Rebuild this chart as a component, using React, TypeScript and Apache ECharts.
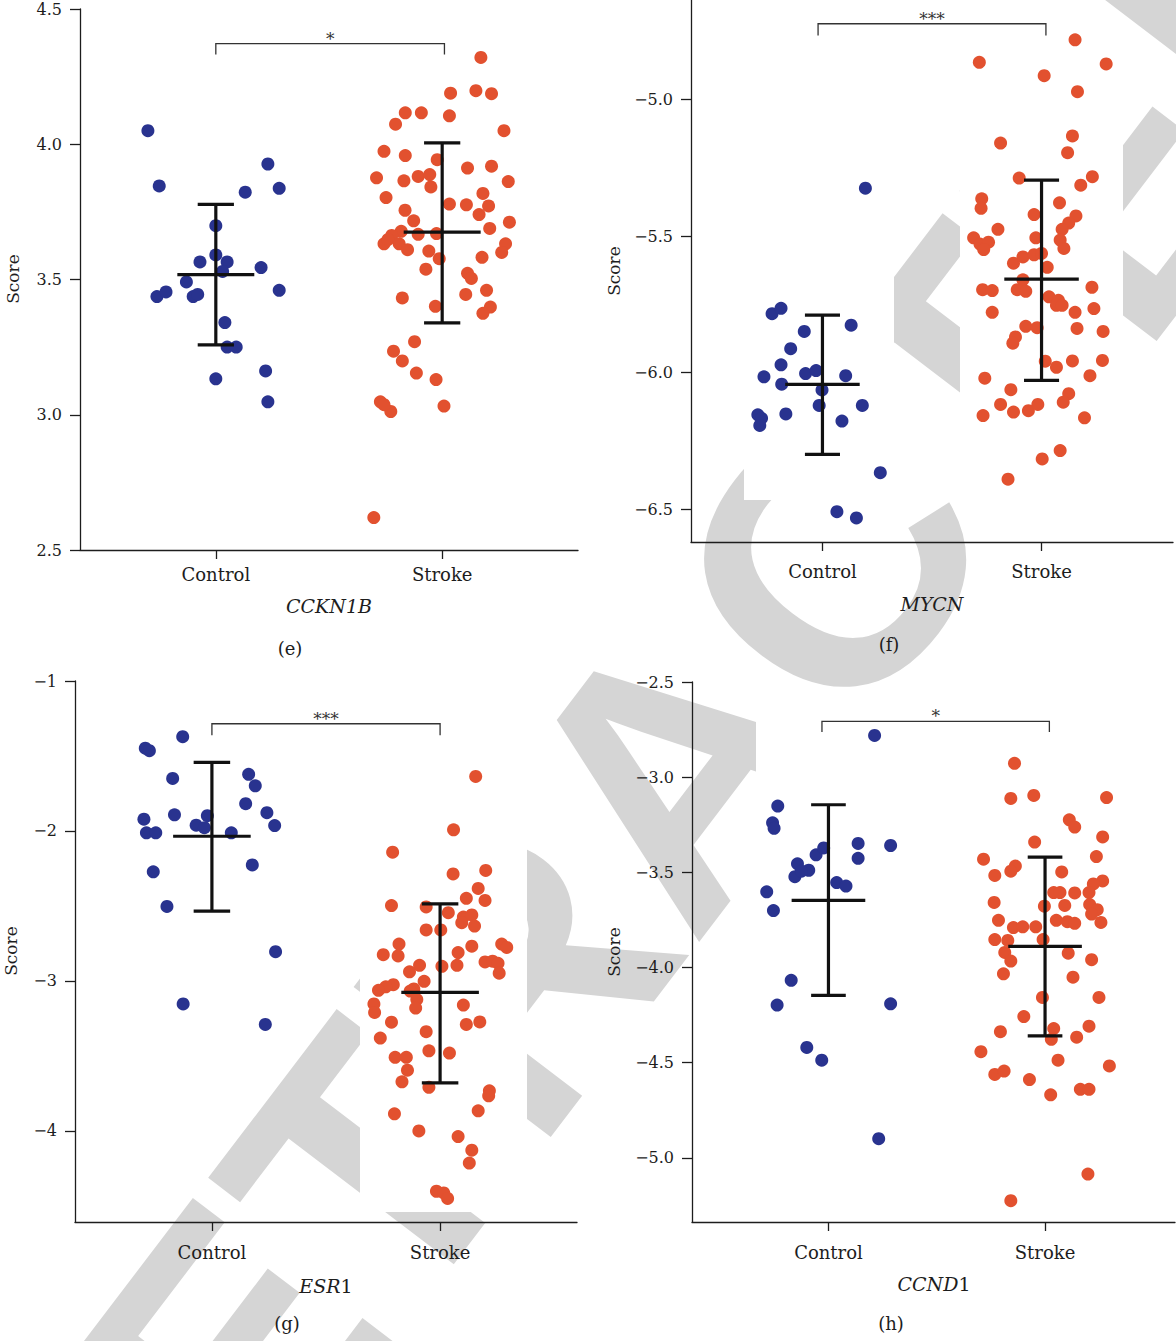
import React, { useEffect, useRef } from 'react';
import * as echarts from 'echarts';

// ---------- data ----------
const groups = ['Control', 'Stroke'];

// [jittered x (0 = Control, 1 = Stroke), score]
const eControl = [
  [-0.30, 4.05], [-0.25, 3.846], [0.13, 3.823], [0.23, 3.927], [0.28, 3.837], [0.0, 3.699],
  [-0.07, 3.565], [0.0, 3.591], [0.05, 3.565], [0.03, 3.53], [0.20, 3.544], [-0.26, 3.437],
  [-0.22, 3.454], [-0.13, 3.491], [-0.10, 3.437], [-0.08, 3.445], [0.28, 3.46], [0.04, 3.341],
  [0.05, 3.25], [0.09, 3.25], [0.0, 3.133], [0.22, 3.162], [0.23, 3.048]
];
const eStroke = [
  [1.171, 4.321], [1.037, 4.189], [1.149, 4.198], [1.218, 4.187], [0.837, 4.116], [0.908, 4.116],
  [1.032, 4.105], [0.794, 4.074], [1.273, 4.05], [0.743, 3.974], [0.837, 3.958], [0.978, 3.943],
  [1.112, 3.912], [1.218, 3.919], [0.71, 3.876], [0.831, 3.865], [0.894, 3.881], [0.945, 3.888],
  [0.95, 3.842], [1.292, 3.862], [0.752, 3.803], [1.032, 3.779], [1.107, 3.776], [1.18, 3.818],
  [1.205, 3.772], [0.836, 3.756], [0.874, 3.717], [1.163, 3.74], [1.297, 3.712], [1.21, 3.689],
  [0.819, 3.678], [0.777, 3.663], [0.743, 3.632], [0.76, 3.647], [0.81, 3.632], [0.847, 3.61],
  [0.894, 3.667], [0.975, 3.67], [0.941, 3.605], [0.987, 3.577], [0.928, 3.538], [1.28, 3.632],
  [1.263, 3.6], [1.176, 3.582], [1.112, 3.523], [1.129, 3.504], [1.104, 3.445], [1.196, 3.46],
  [1.213, 3.398], [1.18, 3.375], [0.824, 3.432], [0.97, 3.401], [0.878, 3.27], [0.785, 3.235],
  [0.824, 3.199], [0.886, 3.154], [0.973, 3.13], [0.727, 3.048], [0.773, 3.012], [1.008, 3.032],
  [0.698, 2.62], [0.743, 3.037]
];
const fControl = [
  [0.196, -5.324], [-0.23, -5.784], [-0.189, -5.764], [-0.083, -5.849], [0.131, -5.826],
  [-0.145, -5.912], [-0.189, -5.971], [-0.267, -6.015], [-0.077, -6.003], [-0.029, -5.992],
  [0.106, -6.011], [-0.186, -6.042], [-0.002, -6.063], [-0.015, -6.12], [0.182, -6.12],
  [-0.167, -6.151], [-0.295, -6.154], [-0.278, -6.167], [-0.286, -6.193], [0.089, -6.177],
  [0.264, -6.366], [0.066, -6.509], [0.155, -6.532]
];
const fStroke = [
  [1.153, -4.781], [0.716, -4.863], [1.295, -4.869], [1.012, -4.912], [1.164, -4.971],
  [0.813, -5.159], [1.141, -5.133], [1.119, -5.194], [0.898, -5.287], [1.232, -5.282],
  [1.179, -5.313], [1.082, -5.378], [0.727, -5.363], [0.724, -5.398], [0.966, -5.421],
  [1.157, -5.426], [1.124, -5.452], [0.801, -5.475], [1.094, -5.475], [0.69, -5.506],
  [0.719, -5.529], [0.758, -5.522], [0.736, -5.549], [1.085, -5.514], [0.974, -5.506],
  [1.102, -5.545], [0.872, -5.599], [0.915, -5.576], [0.966, -5.568], [1.0, -5.563],
  [1.026, -5.614], [0.731, -5.696], [0.775, -5.699], [0.915, -5.66], [0.889, -5.696],
  [0.928, -5.702], [1.23, -5.687], [1.034, -5.722], [1.077, -5.735], [1.068, -5.753],
  [1.094, -5.753], [1.153, -5.779], [1.239, -5.765], [0.775, -5.779], [0.928, -5.83],
  [0.98, -5.835], [1.162, -5.838], [1.281, -5.849], [0.881, -5.869], [0.869, -5.892],
  [1.017, -5.958], [1.068, -5.98], [1.141, -5.957], [1.278, -5.955], [0.741, -6.02],
  [1.221, -6.011], [0.86, -6.062], [1.124, -6.077], [1.099, -6.108], [0.813, -6.116],
  [0.872, -6.144], [0.94, -6.139], [0.983, -6.116], [0.733, -6.157], [1.196, -6.165],
  [1.085, -6.285], [1.003, -6.316], [0.847, -6.39]
];
const gControl = [
  [-0.128, -1.371], [-0.292, -1.448], [-0.274, -1.465], [-0.172, -1.65], [0.161, -1.622],
  [0.19, -1.699], [0.148, -1.818], [-0.164, -1.892], [0.241, -1.878], [-0.298, -1.921],
  [-0.02, -1.898], [-0.069, -1.961], [-0.033, -1.978], [0.275, -1.964], [-0.287, -2.012],
  [-0.246, -2.012], [0.085, -2.012], [0.177, -2.226], [-0.257, -2.272], [-0.197, -2.503],
  [0.279, -2.805], [-0.126, -3.153], [0.234, -3.29]
];
const gStroke = [
  [1.156, -1.636], [1.059, -1.992], [0.792, -2.141], [1.057, -2.286], [1.2, -2.263],
  [1.167, -2.383], [0.787, -2.497], [1.115, -2.449], [1.197, -2.463], [0.939, -2.506],
  [1.036, -2.545], [1.102, -2.574], [1.139, -2.56], [1.151, -2.634], [1.095, -2.611],
  [0.939, -2.66], [1.003, -2.66], [1.139, -2.768], [0.82, -2.754], [1.27, -2.754],
  [1.292, -2.776], [0.751, -2.825], [0.816, -2.833], [1.079, -2.811], [1.074, -2.896],
  [1.008, -2.902], [0.91, -2.896], [0.866, -2.939], [1.197, -2.873], [1.23, -2.868],
  [1.254, -2.882], [1.259, -2.948], [0.795, -3.025], [0.762, -3.039], [0.73, -3.062],
  [0.93, -3.002], [0.885, -3.053], [0.869, -3.067], [0.71, -3.153], [0.713, -3.21],
  [0.898, -3.124], [0.893, -3.181], [1.102, -3.161], [0.787, -3.275], [1.115, -3.29],
  [1.174, -3.273], [0.939, -3.338], [0.738, -3.381], [0.951, -3.466], [1.041, -3.481],
  [0.803, -3.509], [0.852, -3.509], [0.857, -3.595], [0.833, -3.672], [0.951, -3.709],
  [1.216, -3.732], [1.213, -3.766], [0.8, -3.886], [1.167, -3.866], [0.907, -4.0],
  [1.079, -4.037], [1.139, -4.128], [1.128, -4.214], [0.984, -4.402], [1.016, -4.413],
  [1.033, -4.45]
];
const hControl = [
  [0.213, -2.781], [-0.234, -3.152], [-0.258, -3.24], [-0.251, -3.269], [-0.285, -3.602],
  [-0.254, -3.701], [-0.143, -3.455], [-0.091, -3.489], [-0.155, -3.523], [-0.125, -3.494],
  [-0.057, -3.408], [-0.022, -3.372], [0.137, -3.348], [0.137, -3.426], [0.287, -3.359],
  [0.038, -3.554], [0.081, -3.572], [-0.172, -4.067], [-0.237, -4.197], [0.287, -4.191],
  [-0.1, -4.42], [-0.031, -4.487], [0.232, -4.899]
];
const hStroke = [
  [0.859, -2.927], [0.842, -3.112], [0.948, -3.096], [1.284, -3.107], [0.952, -3.341],
  [1.112, -3.224], [1.137, -3.262], [1.266, -3.314], [0.716, -3.431], [1.237, -3.417],
  [0.863, -3.467], [0.768, -3.516], [0.842, -3.494], [1.077, -3.498], [1.266, -3.545],
  [1.223, -3.561], [0.765, -3.658], [0.997, -3.678], [1.04, -3.606], [1.069, -3.606],
  [1.137, -3.608], [1.203, -3.606], [1.091, -3.674], [0.785, -3.752], [0.854, -3.79],
  [0.897, -3.786], [0.957, -3.786], [1.052, -3.752], [1.103, -3.759], [1.137, -3.768],
  [1.206, -3.669], [1.241, -3.696], [1.258, -3.763], [1.215, -3.719], [0.768, -3.853],
  [0.828, -3.858], [0.991, -3.853], [0.814, -3.921], [0.842, -3.966], [0.808, -4.033],
  [1.107, -3.925], [1.215, -3.959], [1.129, -4.051], [1.249, -4.157], [0.988, -4.157],
  [0.902, -4.258], [0.794, -4.337], [1.04, -4.321], [1.029, -4.377], [1.203, -4.308],
  [1.146, -4.366], [0.704, -4.442], [0.768, -4.562], [0.811, -4.544], [0.928, -4.589],
  [1.06, -4.487], [1.026, -4.669], [1.163, -4.64], [1.203, -4.64], [1.297, -4.517],
  [1.198, -5.085], [0.842, -5.225]
];

// error bars: [x, mean, lower, upper]
const eBars = [[0, 3.518, 3.258, 3.778], [1, 3.675, 3.34, 4.005]];
const fBars = [[0, -6.043, -6.299, -5.789], [1, -5.657, -6.028, -5.295]];
const gBars = [[0, -2.035, -2.534, -1.542], [1, -3.076, -3.68, -2.486]];
const hBars = [[0, -3.647, -4.146, -3.145], [1, -3.889, -4.359, -3.42]];

// significance brackets: [x1, x2, yTop, yEnd]
const eBracket = [0, 1.01, 4.372, 4.332];
const fBracket = [-0.02, 1.02, -4.722, -4.765];
const gBracket = [0, 1.0, -1.285, -1.362];
const hBracket = [-0.03, 1.02, -2.707, -2.763];
const eSig = '*';
const fSig = '***';
const gSig = '***';
const hSig = '*';

// y-axis ticks
const eTicks = [2.5, 3.0, 3.5, 4.0, 4.5];
const fTicks = [-6.5, -6.0, -5.5, -5.0];
const gTicks = [-4, -3, -2, -1];
const hTicks = [-5.0, -4.5, -4.0, -3.5, -3.0, -2.5];

// ---------- layout / style ----------
const SERIF = '"DejaVu Serif", serif';
const BLUE = '#29338f';
const RED = '#e2512f';
const INK = '#1d1d1d';
const WATERMARK = '#d5d5d5';

const panels = [
  { grid: { left: 80, top: 9, width: 498, height: 541 }, yMin: 2.5, yMax: 4.5, ticks: eTicks, dec: 1,
    xMin: -0.6, xMax: 1.6, ctrl: eControl, stroke: eStroke, bars: eBars, bracket: eBracket, sig: eSig, catMargin: 15 },
  { grid: { left: 691, top: 0, width: 482, height: 542 }, yMin: -6.62, yMax: -4.635, ticks: fTicks, dec: 1,
    xMin: -0.6, xMax: 1.6, ctrl: fControl, stroke: fStroke, bars: fBars, bracket: fBracket, sig: fSig, catMargin: 20 },
  { grid: { left: 75, top: 681, width: 502, height: 541 }, yMin: -4.607, yMax: -1, ticks: gTicks, dec: 0,
    xMin: -0.6, xMax: 1.6, ctrl: gControl, stroke: gStroke, bars: gBars, bracket: gBracket, sig: gSig, catMargin: 21 },
  { grid: { left: 692, top: 682, width: 483, height: 540 }, yMin: -5.337, yMax: -2.5, ticks: hTicks, dec: 1,
    xMin: -0.63, xMax: 1.6, ctrl: hControl, stroke: hStroke, bars: hBars, bracket: hBracket, sig: hSig, catMargin: 21 },
];

// white backing panels behind the point clouds (the pasted plot images hide the watermark there)
const backings = [
  [134, 117, 293, 415], [360, 44, 523, 531],
  [744, 175, 894, 500], [960, 27, 1123, 515],
  [130, 723, 289, 1038], [360, 762, 527, 1212],
  [756, 722, 905, 1152], [968, 750, 1125, 1214],
];

const fmt = (v: number, dec: number) => (dec ? v.toFixed(1) : String(Math.round(v))).replace('-', '\u2212');

function buildOption() {
  const grid: any[] = [];
  const xAxis: any[] = [];
  const yAxis: any[] = [];
  const series: any[] = [];

  panels.forEach((p, i) => {
    grid.push({ ...p.grid, containLabel: false });
    xAxis.push({
      type: 'value', gridIndex: i, min: p.xMin, max: p.xMax,
      axisLine: { show: true, onZero: false, lineStyle: { color: INK, width: 1.3 } },
      axisTick: { show: true, length: 9, customValues: [0, 1], lineStyle: { color: INK, width: 1.3 } },
      axisLabel: { customValues: [0, 1], formatter: (v: number) => groups[Math.round(v)] ?? '',
        margin: p.catMargin, fontFamily: SERIF, fontSize: 18, color: INK },
      splitLine: { show: false },
    });
    yAxis.push({
      type: 'value', gridIndex: i, min: p.yMin, max: p.yMax,
      axisLine: { show: true, onZero: false, lineStyle: { color: INK, width: 1.3 } },
      axisTick: { show: true, length: 10, customValues: p.ticks, lineStyle: { color: INK, width: 1.3 } },
      axisLabel: { customValues: p.ticks, formatter: (v: number) => fmt(v, p.dec), margin: 18,
        fontFamily: SERIF, fontSize: 16, color: INK },
      splitLine: { show: false },
    });
    series.push({
      type: 'scatter', xAxisIndex: i, yAxisIndex: i, data: p.ctrl, symbol: 'circle', symbolSize: 13,
      itemStyle: { color: BLUE, opacity: 1 }, z: 2, silent: true,
    });
    series.push({
      type: 'scatter', xAxisIndex: i, yAxisIndex: i, data: p.stroke, symbol: 'circle', symbolSize: 13,
      itemStyle: { color: RED, opacity: 1 }, z: 2, silent: true,
    });
    series.push({
      type: 'custom', xAxisIndex: i, yAxisIndex: i, data: p.bars, z: 4, silent: true,
      encode: { x: 0, y: [1, 2, 3] },
      renderItem: (_params: any, api: any) => {
        const x = api.value(0), m = api.value(1), lo = api.value(2), hi = api.value(3);
        const c = (a: number, b: number) => api.coord([a, b]);
        const segs = [
          [c(x, lo), c(x, hi)],
          [c(x - 0.17, m), c(x + 0.17, m)],
          [c(x - 0.08, hi), c(x + 0.08, hi)],
          [c(x - 0.08, lo), c(x + 0.08, lo)],
        ];
        return {
          type: 'group',
          children: segs.map((s) => ({
            type: 'line',
            shape: { x1: s[0][0], y1: s[0][1], x2: s[1][0], y2: s[1][1] },
            style: { stroke: '#111', lineWidth: 3.2 },
          })),
        };
      },
    });
    series.push({
      type: 'custom', xAxisIndex: i, yAxisIndex: i, data: [[...p.bracket, p.sig]], z: 4, silent: true,
      encode: { x: [0, 1], y: [2, 3] }, clip: false,
      renderItem: (_params: any, api: any) => {
        const x1 = api.value(0), x2 = api.value(1), yt = api.value(2), ye = api.value(3);
        const a = api.coord([x1, ye]);
        const b = api.coord([x1, yt]);
        const cc = api.coord([x2, yt]);
        const d = api.coord([x2, ye]);
        return {
          type: 'group',
          children: [
            { type: 'polyline', shape: { points: [a, b, cc, d] },
              style: { stroke: '#333', lineWidth: 1.3, fill: 'none' } },
            { type: 'text', style: { text: p.sig, x: (b[0] + cc[0]) / 2, y: b[1] - 5,
              align: 'center', verticalAlign: 'middle', font: `17px ${SERIF}`, fill: '#333' } },
          ],
        };
      },
    });
  });

  const txt = (x: number, y: number, text: string, size: number, extra: any = {}) => ({
    type: 'text', x, y, z: 10,
    style: { text, font: `${size}px ${SERIF}`, fill: INK, align: 'center', verticalAlign: 'middle',
      textAlign: 'center', textVerticalAlign: 'middle', ...extra },
  });
  const rich = (x: number, y: number, ital: string, plain: string) => ({
    type: 'text', x, y, z: 10,
    style: {
      text: plain ? `{i|${ital}}{n|${plain}}` : `{i|${ital}}`, align: 'center', verticalAlign: 'middle',
      textAlign: 'center', textVerticalAlign: 'middle', fill: INK,
      rich: {
        i: { fontFamily: SERIF, fontSize: 19, fontStyle: 'italic', fill: INK, color: INK },
        n: { fontFamily: SERIF, fontSize: 19, fill: INK, color: INK },
      },
    },
  });
  const score = (x: number, y: number) => ({ ...txt(x, y, 'Score', 17), rotation: Math.PI / 2 });

  const graphic: any[] = [
    {
      type: 'text', x: 673, y: 770, rotation: 0.92, z: -10, silent: true,
      style: { text: 'RETRACTED', font: 'bold 360px "Liberation Sans", Arial, sans-serif', fill: WATERMARK,
        align: 'center', verticalAlign: 'middle', textAlign: 'center', textVerticalAlign: 'middle' },
    },
    ...backings.map((b) => ({
      type: 'rect', z: -5, silent: true,
      shape: { x: b[0], y: b[1], width: b[2] - b[0], height: b[3] - b[1] },
      style: { fill: '#ffffff' },
    })),
    score(13, 279), score(614, 271), score(11, 951), score(614, 952),
    rich(329, 606, 'CCKN1B', ''), rich(932, 604, 'MYCN', ''), rich(326, 1286, 'ESR', '1'), rich(934, 1284, 'CCND', '1'),
    txt(290, 648, '(e)', 18), txt(889, 644, '(f)', 18), txt(287, 1323, '(g)', 18), txt(891, 1323, '(h)', 18),
  ];

  return { animation: false, backgroundColor: '#ffffff', grid, xAxis, yAxis, series, graphic };
}

export default function App() {
  const ref = useRef<HTMLDivElement>(null);
  useEffect(() => {
    if (!ref.current) return;
    const chart = echarts.init(ref.current, undefined, { renderer: 'svg' });
    chart.setOption(buildOption() as any);
    return () => chart.dispose();
  }, []);
  return <div ref={ref} style={{ position: 'absolute', left: 0, top: 0, width: 1176, height: 1341 }} />;
}
